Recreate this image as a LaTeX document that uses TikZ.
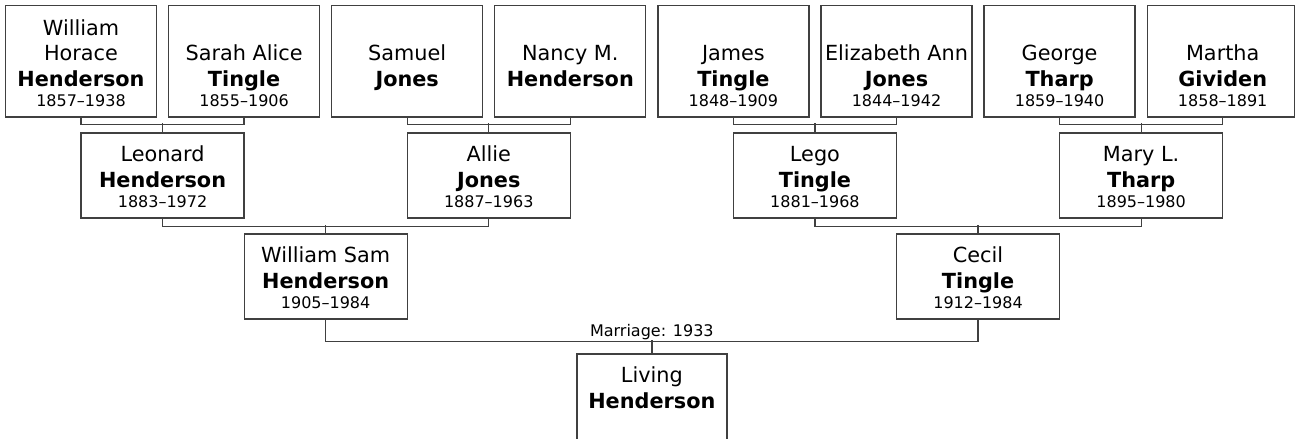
\documentclass[tikz,border=0pt]{standalone}
\usepackage{fontspec}
\setmainfont{DejaVu Sans}
\newcommand\famtext[5]{%
  \node[given,anchor=base] (#1g) at (#2,#3-56.3) {#4};
  \node[sur,anchor=base] (#1s) at (#2,#3-30.5) {#5};}
\newcommand\famdate[4]{%
  \node[dates,anchor=base] (#1d) at (#2,#3-10.3) {#4};}
\begin{document}
\begin{tikzpicture}[x=1pt,y=-1pt,
  pbox/.style={draw=black!75, line width=1.3pt, inner sep=0pt, fill=white},
  toprow/.style={pbox, minimum width=151pt, minimum height=111.5pt},
  midrow/.style={pbox, minimum width=163pt, minimum height=85pt},
  conn/.style={draw=black!75, line width=1.3pt},
  given/.style={font=\fontsize{20.8}{25}\selectfont, inner sep=0pt},
  sur/.style={font=\fontsize{20.8}{25}\selectfont\bfseries, inner sep=0pt},
  dates/.style={font=\fontsize{16}{19}\selectfont, inner sep=0pt},
]
\clip (0,0) rectangle (1296,439);

% ---------- row 1 ----------
\node[toprow] (a1) at (81,61.25) {};
\node[toprow] (a2) at (244.1,61.25) {};
\node[toprow] (a3) at (407.2,61.25) {};
\node[toprow] (a4) at (570.3,61.25) {};
\node[toprow] (a5) at (733.4,61.25) {};
\node[toprow] (a6) at (896.5,61.25) {};
\node[toprow] (a7) at (1059.6,61.25) {};
\node[pbox, minimum width=147.1pt, minimum height=111.5pt] (a8) at (1220.75,61.25) {};
\coordinate (a8c) at (1222.7,117);

\node[given,anchor=base] (a1x) at (81,35) {William};
\famtext{a1}{81}{117}{Horace}{Henderson}
\famdate{a1}{81}{117}{1857--1938}
\famtext{a2}{244.1}{117}{Sarah Alice}{Tingle}
\famdate{a2}{244.1}{117}{1855--1906}
\famtext{a3}{407.2}{117}{Samuel}{Jones}
\famtext{a4}{570.3}{117}{Nancy M.}{Henderson}
\famtext{a5}{733.4}{117}{James}{Tingle}
\famdate{a5}{733.4}{117}{1848--1909}
\famtext{a6}{896.5}{117}{Elizabeth Ann}{Jones}
\famdate{a6}{896.5}{117}{1844--1942}
\famtext{a7}{1059.6}{117}{George}{Tharp}
\famdate{a7}{1059.6}{117}{1859--1940}
\famtext{a8}{1222.7}{117}{Martha}{Gividen}
\famdate{a8}{1222.7}{117}{1858--1891}

% ---------- row 2 ----------
\node[midrow] (b1) at (162.55,175.5) {};
\node[midrow] (b2) at (488.75,175.5) {};
\node[midrow] (b3) at (814.95,175.5) {};
\node[midrow] (b4) at (1141.15,175.5) {};
\famtext{b1}{162.55}{218}{Leonard}{Henderson}
\famdate{b1}{162.55}{218}{1883--1972}
\famtext{b2}{488.75}{218}{Allie}{Jones}
\famdate{b2}{488.75}{218}{1887--1963}
\famtext{b3}{814.95}{218}{Lego}{Tingle}
\famdate{b3}{814.95}{218}{1881--1968}
\famtext{b4}{1141.15}{218}{Mary L.}{Tharp}
\famdate{b4}{1141.15}{218}{1895--1980}

% ---------- row 3 ----------
\node[midrow] (c1) at (325.65,276.5) {};
\node[midrow] (c2) at (978.05,276.5) {};
\famtext{c1}{325.65}{319}{William Sam}{Henderson}
\famdate{c1}{325.65}{319}{1905--1984}
\famtext{c2}{978.05}{319}{Cecil}{Tingle}
\famdate{c2}{978.05}{319}{1912--1984}

% ---------- row 4 ----------
\node[pbox, minimum width=150pt, minimum height=116pt] (d) at (651.85,412) {};
\famtext{d}{651.85}{439}{Living}{Henderson}

% ---------- connectors ----------
\draw[conn] (a1.south) -- ++(0,7) -| (a2.south);
\draw[conn] (b1.north) -- ++(0,-9);
\draw[conn] (a3.south) -- ++(0,7) -| (a4.south);
\draw[conn] (b2.north) -- ++(0,-9);
\draw[conn] (a5.south) -- ++(0,7) -| (a6.south);
\draw[conn] (b3.north) -- ++(0,-9);
\draw[conn] (a7.south) -- ++(0,7) -| (a8c);
\draw[conn] (b4.north) -- ++(0,-9);

\draw[conn] (b1.south) -- ++(0,8) -| (b2.south);
\draw[conn] (c1.north) -- ++(0,-8);
\draw[conn] (b3.south) -- ++(0,8) -| (b4.south);
\draw[conn] (c2.north) -- ++(0,-8);

\draw[conn] (c1.south) -- ++(0,22) -| (c2.south);
\draw[conn] (d.north) -- ++(0,-13);
\node[dates,anchor=base] (mar) at (651.85,336.7) {Marriage: 1933};
\end{tikzpicture}
\end{document}
